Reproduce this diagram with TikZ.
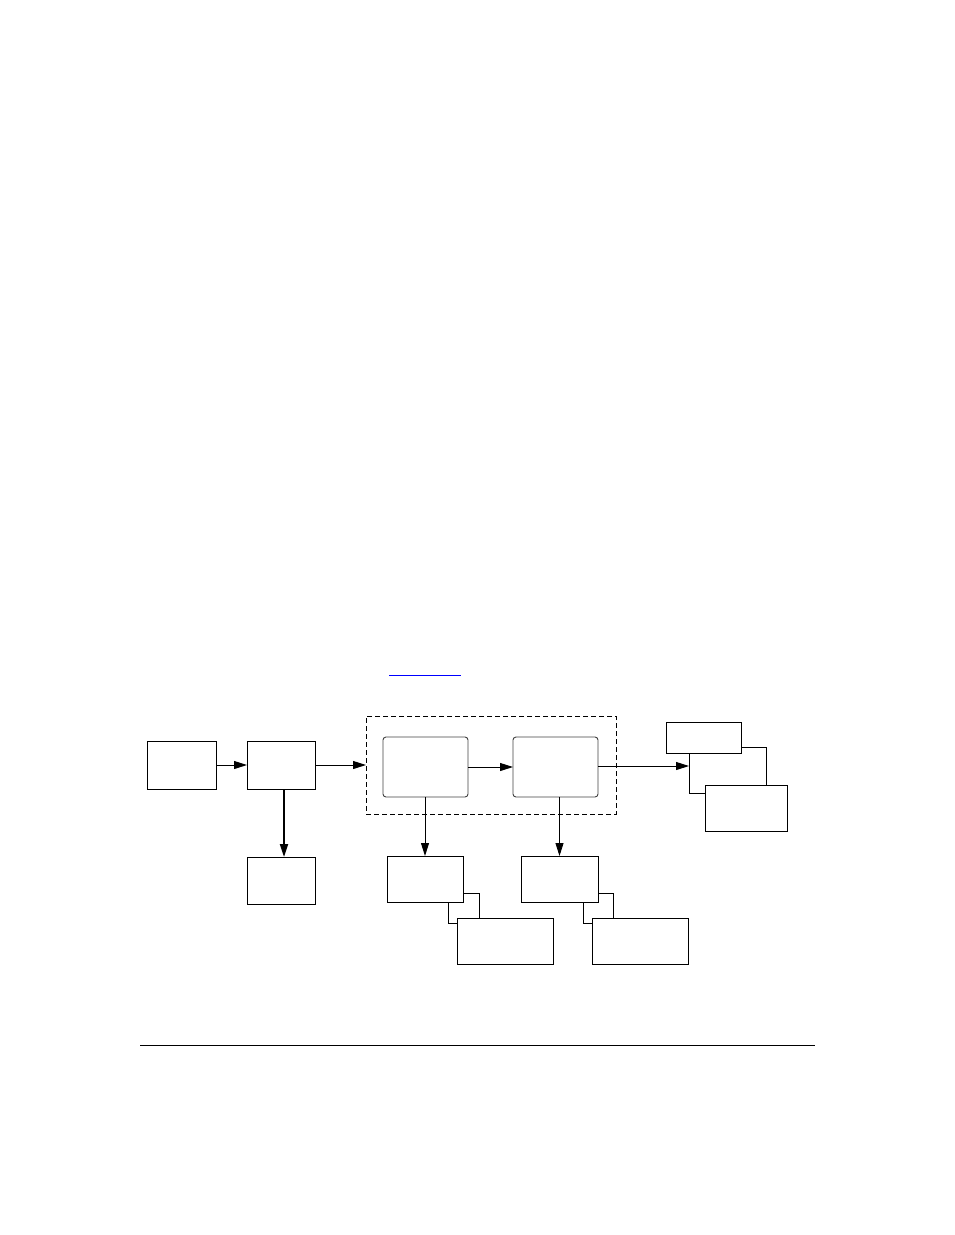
\documentclass[tikz,border=0pt]{standalone}
\usepackage{tikz}
\usetikzlibrary{arrows.meta}

\begin{document}
\begin{tikzpicture}
[x=1pt, y=-1pt,
plainbox/.style={rectangle, draw=black, line width=0.9pt, inner sep=0pt, outer sep=0pt},
roundbox/.style={rectangle, draw=black!75, line width=0.9pt, rounded corners=3pt, inner sep=0pt, outer sep=0pt, minimum width=85pt, minimum height=60pt},
groupbox/.style={rectangle, draw=black, line width=0.9pt, dash pattern=on 5pt off 3pt, inner sep=0pt, outer sep=0pt},
flow/.style={line width=0.9pt, -{Triangle[length=13pt,width=8pt]}},
link/.style={line width=0.9pt},
]
\useasboundingbox (0,0) rectangle (954,1235);

% top row
\node[plainbox, minimum width=69pt, minimum height=48pt] (source) at (181.5,765) {};
\node[plainbox, minimum width=68pt, minimum height=48pt] (split) at (281,765) {};
\node[plainbox, minimum width=68pt, minimum height=47pt] (store) at (281,880.5) {};

% dashed group with its two stages
\node[groupbox, minimum width=250pt, minimum height=98pt] (group) at (491,765) {};
\node[roundbox] (stageA) at (425.5,767) {};
\node[roundbox] (stageB) at (555.5,767) {};

% outputs of the stages
\node[plainbox, minimum width=76pt, minimum height=46pt] (outA) at (425,879) {};
\node[plainbox, minimum width=96pt, minimum height=46pt] (outAx) at (505,941) {};
\node[plainbox, minimum width=77pt, minimum height=46pt] (outB) at (559.5,879) {};
\node[plainbox, minimum width=96pt, minimum height=46pt] (outBx) at (640,941) {};

% final pair
\node[plainbox, minimum width=75pt, minimum height=31pt] (sinkA) at (703.5,737.5) {};
\node[plainbox, minimum width=82pt, minimum height=46pt] (sinkB) at (746,808) {};

\draw[flow] (source) -- (split);
\draw[flow] (split) -- (group);
\draw[flow, line width=2pt] ([xshift=3pt]split.south) -- ([xshift=3pt]store.north);
\draw[flow] (stageA) -- (stageB);
\draw[flow] (outA.north |- stageA.south) -- (outA.north);
\draw[flow] (outB.north |- stageB.south) -- (outB.north);

% joints between the paired boxes
\draw[link] ([yshift=9pt]outA.south east) -| ([xshift=-26pt]outAx.north);
\draw[link] ([xshift=23pt]outA.south) |- ([yshift=-5pt]outAx.north west);
\draw[link] ([yshift=9pt]outB.south east) -| ([xshift=-27pt]outBx.north);
\draw[link] ([xshift=23.5pt]outB.south) |- ([yshift=-5pt]outBx.north west);
\draw[link] ([yshift=6pt]sinkA.south east) -| ([xshift=20pt]sinkB.north);
\draw[link] ([xshift=-14.5pt]sinkA.south) coordinate (sinkjoin) |- ([yshift=-8pt]sinkB.north west);
\draw[flow] ([yshift=1pt]stageB.east) -- ([yshift=1pt]stageB.east -| sinkjoin);

% caption underline and rule
\draw[blue, line width=1pt] (389,675) -- (461,675);
\draw[line width=0.8pt] (140,1045) -- (815,1045);
\end{tikzpicture}
\end{document}
